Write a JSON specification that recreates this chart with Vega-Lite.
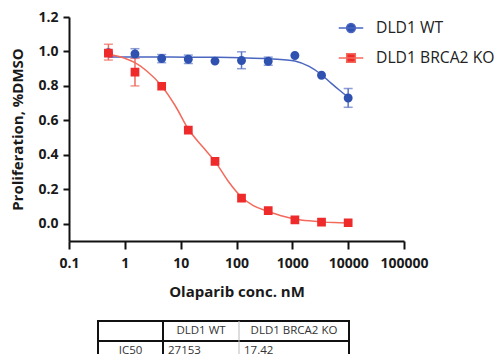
{
  "$schema": "https://vega.github.io/schema/vega-lite/v6.json",
  "background": "white",
  "padding": {"left": 10, "top": 10, "right": 0, "bottom": 0},
  "spacing": 21,
  "config": {
    "view": {"stroke": null},
    "font": "Open Sans",
    "axis": {
      "grid": false,
      "domainColor": "#111111",
      "domainWidth": 2,
      "tickColor": "#111111",
      "tickWidth": 2,
      "labelFont": "Open Sans",
      "labelFontWeight": "bold",
      "labelFontSize": 14,
      "labelColor": "#1a1a1a",
      "titleFont": "Open Sans",
      "titleFontWeight": "bold",
      "titleFontSize": 15,
      "titleColor": "#1a1a1a",
      "labelFlush": false,
      "labelOverlap": false
    },
    "legend": {
      "title": null,
      "orient": "none",
      "legendX": 269,
      "legendY": -2,
      "padding": 0,
      "labelFont": "Open Sans",
      "labelFontSize": 15.7,
      "labelColor": "#222222",
      "labelOffset": 12,
      "symbolSize": 600,
      "symbolStrokeWidth": 1.5,
      "rowPadding": 9
    }
  },
  "resolve": {"scale": {"x": "independent", "y": "independent"}},
  "datasets": {
    "obs": [
      {"series": "DLD1 WT", "conc": 0.508, "prolif": 0.993},
      {"series": "DLD1 WT", "conc": 1.52, "prolif": 0.985, "lo": 0.963, "hi": 1.016},
      {"series": "DLD1 WT", "conc": 4.57, "prolif": 0.959, "lo": 0.935, "hi": 0.982},
      {"series": "DLD1 WT", "conc": 13.7, "prolif": 0.955, "lo": 0.93, "hi": 0.979},
      {"series": "DLD1 WT", "conc": 41.2, "prolif": 0.944},
      {"series": "DLD1 WT", "conc": 123, "prolif": 0.947, "lo": 0.9, "hi": 0.998},
      {"series": "DLD1 WT", "conc": 370, "prolif": 0.943, "lo": 0.92, "hi": 0.967},
      {"series": "DLD1 WT", "conc": 1111, "prolif": 0.977},
      {"series": "DLD1 WT", "conc": 3333, "prolif": 0.862},
      {"series": "DLD1 WT", "conc": 10000, "prolif": 0.73, "lo": 0.676, "hi": 0.785},
      {"series": "DLD1 BRCA2 KO", "conc": 0.508, "prolif": 0.99, "lo": 0.95, "hi": 1.042},
      {"series": "DLD1 BRCA2 KO", "conc": 1.52, "prolif": 0.88, "lo": 0.8, "hi": 0.96},
      {"series": "DLD1 BRCA2 KO", "conc": 4.57, "prolif": 0.798},
      {"series": "DLD1 BRCA2 KO", "conc": 13.7, "prolif": 0.543},
      {"series": "DLD1 BRCA2 KO", "conc": 41.2, "prolif": 0.362},
      {"series": "DLD1 BRCA2 KO", "conc": 123, "prolif": 0.149},
      {"series": "DLD1 BRCA2 KO", "conc": 370, "prolif": 0.076},
      {"series": "DLD1 BRCA2 KO", "conc": 1111, "prolif": 0.023},
      {"series": "DLD1 BRCA2 KO", "conc": 3333, "prolif": 0.01},
      {"series": "DLD1 BRCA2 KO", "conc": 10000, "prolif": 0.006}
    ],
    "curves": [
      {"series": "DLD1 WT", "conc": 0.508, "fit": 0.968},
      {"series": "DLD1 WT", "conc": 1.52, "fit": 0.968},
      {"series": "DLD1 WT", "conc": 4.57, "fit": 0.968},
      {"series": "DLD1 WT", "conc": 13.7, "fit": 0.967},
      {"series": "DLD1 WT", "conc": 41.2, "fit": 0.966},
      {"series": "DLD1 WT", "conc": 123, "fit": 0.963},
      {"series": "DLD1 WT", "conc": 370, "fit": 0.958},
      {"series": "DLD1 WT", "conc": 700, "fit": 0.952},
      {"series": "DLD1 WT", "conc": 1111, "fit": 0.945},
      {"series": "DLD1 WT", "conc": 2000, "fit": 0.913},
      {"series": "DLD1 WT", "conc": 3333, "fit": 0.865},
      {"series": "DLD1 WT", "conc": 5000, "fit": 0.815},
      {"series": "DLD1 WT", "conc": 7000, "fit": 0.775},
      {"series": "DLD1 WT", "conc": 10000, "fit": 0.735},
      {"series": "DLD1 BRCA2 KO", "conc": 0.508, "fit": 0.985},
      {"series": "DLD1 BRCA2 KO", "conc": 1, "fit": 0.96},
      {"series": "DLD1 BRCA2 KO", "conc": 1.52, "fit": 0.935},
      {"series": "DLD1 BRCA2 KO", "conc": 2.5, "fit": 0.885},
      {"series": "DLD1 BRCA2 KO", "conc": 4.57, "fit": 0.8},
      {"series": "DLD1 BRCA2 KO", "conc": 8, "fit": 0.685},
      {"series": "DLD1 BRCA2 KO", "conc": 13.7, "fit": 0.55},
      {"series": "DLD1 BRCA2 KO", "conc": 25, "fit": 0.445},
      {"series": "DLD1 BRCA2 KO", "conc": 41.2, "fit": 0.362},
      {"series": "DLD1 BRCA2 KO", "conc": 70, "fit": 0.25},
      {"series": "DLD1 BRCA2 KO", "conc": 123, "fit": 0.155},
      {"series": "DLD1 BRCA2 KO", "conc": 200, "fit": 0.105},
      {"series": "DLD1 BRCA2 KO", "conc": 370, "fit": 0.072},
      {"series": "DLD1 BRCA2 KO", "conc": 630, "fit": 0.047},
      {"series": "DLD1 BRCA2 KO", "conc": 1111, "fit": 0.028},
      {"series": "DLD1 BRCA2 KO", "conc": 2000, "fit": 0.017},
      {"series": "DLD1 BRCA2 KO", "conc": 3333, "fit": 0.011},
      {"series": "DLD1 BRCA2 KO", "conc": 5600, "fit": 0.007},
      {"series": "DLD1 BRCA2 KO", "conc": 10000, "fit": 0.005}
    ],
    "tableCells": [
      {"row": 0, "c0": 0, "cm": 0.5, "rm": 0.5, "label": ""},
      {"row": 0, "c0": 1, "cm": 1.5, "rm": 0.5, "label": "DLD1 WT"},
      {"row": 0, "c0": 2, "cm": 2.5, "rm": 0.5, "label": "DLD1 BRCA2 KO"},
      {"row": 1, "c0": 0, "cm": 0.5, "rm": 1.5, "label": "IC50"},
      {"row": 1, "c0": 1, "cm": 1.5, "rm": 1.5, "label": "27153"},
      {"row": 1, "c0": 2, "cm": 2.5, "rm": 1.5, "label": "17.42"}
    ],
    "tableLines": [
      {"kind": "frame", "x0": 0, "x1": 3, "y0": 0, "y1": 2},
      {"kind": "major", "x0": 1, "x1": 1, "y0": 0, "y1": 2},
      {"kind": "major", "x0": 0, "x1": 3, "y0": 1, "y1": 1},
      {"kind": "minor", "x0": 2, "x1": 2, "y0": 0, "y1": 2}
    ]
  },
  "vconcat": [
    {
      "width": 335,
      "height": 224,
      "encoding": {
        "x": {
          "field": "conc",
          "type": "quantitative",
          "title": "Olaparib conc. nM",
          "scale": {"type": "log", "domain": [0.1, 100000], "nice": false},
          "axis": {"values": [0.1, 1, 10, 100, 1000, 10000, 100000], "format": "~g", "tickSize": 8, "labelPadding": 7, "titlePadding": 14}
        },
        "y": {
          "type": "quantitative",
          "title": "Proliferation, %DMSO",
          "scale": {"domain": [-0.1, 1.2], "nice": false, "zero": false},
          "axis": {"values": [0, 0.2, 0.4, 0.6, 0.8, 1.0, 1.2], "format": ".1f", "tickSize": 6, "labelPadding": 5, "titlePadding": 12}
        }
      },
      "layer": [
        {
          "data": {"name": "curves"},
          "mark": {"type": "line", "interpolate": "monotone", "strokeWidth": 1.5},
          "encoding": {
            "y": {
              "field": "fit",
              "type": "quantitative",
              "title": "Proliferation, %DMSO",
              "scale": {"domain": [-0.1, 1.2], "nice": false, "zero": false},
              "axis": {"values": [0, 0.2, 0.4, 0.6, 0.8, 1.0, 1.2], "format": ".1f", "tickSize": 6, "labelPadding": 5, "titlePadding": 12}
            },
            "stroke": {
              "field": "series",
              "type": "nominal",
              "scale": {"domain": ["DLD1 WT", "DLD1 BRCA2 KO"], "range": ["#4a66c0", "#f36a5c"]}
            }
          }
        },
        {
          "data": {"name": "obs"},
          "transform": [{"filter": "isValid(datum.lo) && datum.series === 'DLD1 WT'"}],
          "mark": {"type": "errorbar", "color": "#5b74c6", "thickness": 1.5, "ticks": {"size": 9, "thickness": 1.5}},
          "encoding": {
            "y": {
              "field": "lo",
              "type": "quantitative",
              "title": "Proliferation, %DMSO",
              "scale": {"domain": [-0.1, 1.2], "nice": false, "zero": false},
              "axis": {"values": [0, 0.2, 0.4, 0.6, 0.8, 1.0, 1.2], "format": ".1f", "tickSize": 6, "labelPadding": 5, "titlePadding": 12}
            },
            "y2": {"field": "hi"}
          }
        },
        {
          "data": {"name": "obs"},
          "transform": [{"filter": "isValid(datum.lo) && datum.series === 'DLD1 BRCA2 KO'"}],
          "mark": {"type": "errorbar", "color": "#f06a5e", "thickness": 1.5, "ticks": {"size": 9, "thickness": 1.5}},
          "encoding": {
            "y": {
              "field": "lo",
              "type": "quantitative",
              "title": "Proliferation, %DMSO",
              "scale": {"domain": [-0.1, 1.2], "nice": false, "zero": false},
              "axis": {"values": [0, 0.2, 0.4, 0.6, 0.8, 1.0, 1.2], "format": ".1f", "tickSize": 6, "labelPadding": 5, "titlePadding": 12}
            },
            "y2": {"field": "hi"}
          }
        },
        {
          "data": {"name": "obs"},
          "mark": {"type": "point", "filled": true, "opacity": 1, "size": 620},
          "encoding": {
            "y": {
              "field": "prolif",
              "type": "quantitative",
              "title": "Proliferation, %DMSO",
              "scale": {"domain": [-0.1, 1.2], "nice": false, "zero": false},
              "axis": {"values": [0, 0.2, 0.4, 0.6, 0.8, 1.0, 1.2], "format": ".1f", "tickSize": 6, "labelPadding": 5, "titlePadding": 12}
            },
            "color": {
              "field": "series",
              "type": "nominal",
              "scale": {"domain": ["DLD1 WT", "DLD1 BRCA2 KO"], "range": ["#2f52b0", "#ee2a2a"]}
            },
            "shape": {
              "field": "series",
              "type": "nominal",
              "scale": {"domain": ["DLD1 WT", "DLD1 BRCA2 KO"], "range": ["M-1,0L1,0M0.36,0A0.36,0.36,0,1,1,-0.36,0A0.36,0.36,0,1,1,0.36,0Z", "M-1,0L1,0M-0.35,-0.35L0.35,-0.35L0.35,0.35L-0.35,0.35Z"]}
            }
          }
        }
      ]
    },
    {
      "width": 335,
      "height": 40,
      "layer": [
        {
          "data": {"name": "tableLines"},
          "transform": [{"filter": "datum.kind === 'frame'"}],
          "mark": {"type": "rect", "fill": null, "stroke": "#111111", "strokeWidth": 2},
          "encoding": {
            "x": {"field": "x0", "type": "quantitative", "scale": {"domain": [0, 1, 2, 3], "range": [29, 94, 170, 280]}, "axis": null},
            "x2": {"field": "x1"},
            "y": {"field": "y0", "type": "quantitative", "scale": {"domain": [0, 2], "range": [0, 40]}, "axis": null},
            "y2": {"field": "y1"}
          }
        },
        {
          "data": {"name": "tableLines"},
          "transform": [{"filter": "datum.kind === 'major'"}],
          "mark": {"type": "rule", "stroke": "#111111", "strokeWidth": 2},
          "encoding": {
            "x": {"field": "x0", "type": "quantitative", "axis": null},
            "x2": {"field": "x1"},
            "y": {"field": "y0", "type": "quantitative", "axis": null},
            "y2": {"field": "y1"}
          }
        },
        {
          "data": {"name": "tableLines"},
          "transform": [{"filter": "datum.kind === 'minor'"}],
          "mark": {"type": "rule", "stroke": "#bbbbbb", "strokeWidth": 1},
          "encoding": {
            "x": {"field": "x0", "type": "quantitative", "axis": null},
            "x2": {"field": "x1"},
            "y": {"field": "y0", "type": "quantitative", "axis": null},
            "y2": {"field": "y1"}
          }
        },
        {
          "data": {"name": "tableCells"},
          "transform": [{"filter": "datum.row === 0 || datum.c0 === 0"}],
          "mark": {"type": "text", "align": "center", "baseline": "middle", "font": "Open Sans", "fontSize": 11.5, "color": "#333333"},
          "encoding": {
            "x": {"field": "cm", "type": "quantitative", "axis": null},
            "y": {"field": "rm", "type": "quantitative", "axis": null},
            "text": {"field": "label"}
          }
        },
        {
          "data": {"name": "tableCells"},
          "transform": [{"filter": "datum.row === 1 && datum.c0 > 0"}],
          "mark": {"type": "text", "align": "left", "baseline": "middle", "dx": 5, "font": "Open Sans", "fontSize": 11.5, "color": "#333333"},
          "encoding": {
            "x": {"field": "c0", "type": "quantitative", "axis": null},
            "y": {"field": "rm", "type": "quantitative", "axis": null},
            "text": {"field": "label"}
          }
        }
      ]
    }
  ]
}
